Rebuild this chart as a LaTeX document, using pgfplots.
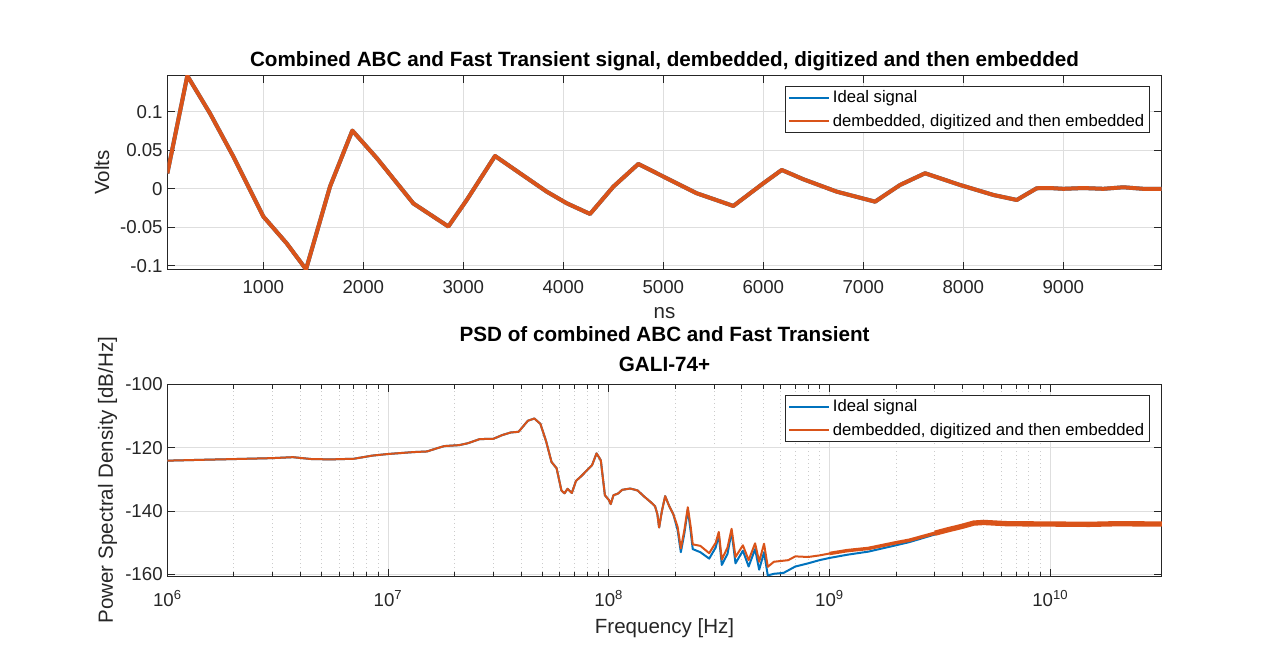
\documentclass[border=0pt]{standalone}
\usepackage{fontspec}
\setmainfont{Liberation Sans}
\usepackage{pgfplots}
\pgfplotsset{compat=1.18}

\definecolor{mblue}{rgb}{0,0.447,0.741}
\definecolor{morange}{rgb}{0.85,0.325,0.098}
\definecolor{maxis}{rgb}{0.15,0.15,0.15}
\definecolor{mgrid}{rgb}{0.87,0.87,0.87}

\pgfplotsset{
  matlab/.style={
    scale only axis,
    width=745.8pt,
    axis line style={maxis, line width=0.6pt},
    tick style={maxis, line width=0.6pt},
    major tick length=5.6pt,
    minor tick length=3.2pt,
    tick align=inside,
    major grid style={mgrid, line width=0.6pt},
    minor grid style={mgrid!80!gray, line width=0.6pt, dash pattern=on 0.9pt off 2.1pt},
    ticklabel style={font=\fontsize{14}{16}\selectfont, text=maxis},
    label style={font=\fontsize{15.4}{18}\selectfont, text=maxis},
    title style={font=\bfseries\fontsize{15.5}{22.5}\selectfont, align=center, yshift=-6pt},
    legend style={font=\fontsize{12.5}{14}\selectfont, draw=maxis, line width=0.6pt,
      inner xsep=2pt, inner ysep=1.2pt, row sep=3pt, anchor=north east},
    legend cell align=left,
    legend image code/.code={\draw[##1, line width=1.6pt] (0pt,0pt) -- (30pt,0pt);},
  }
}

\begin{document}
\begin{tikzpicture}
\path[use as bounding box] (0,0) rectangle (963pt,-488.25pt);

% time domain
\begin{axis}[matlab,
  at={(125.5pt,-56.8pt)}, anchor=north west,
  height=145.2pt,
  xmin=40, xmax=9984, ymin=-0.1047, ymax=0.147,
  xtick={1000,2000,3000,4000,5000,6000,7000,8000,9000},
  xticklabels={1000,2000,3000,4000,5000,6000,7000,8000,9000},
  xticklabel style={yshift=-4.5pt},
  ytick={-0.1,-0.05,0,0.05,0.1},
  yticklabels={-0.1,-0.05,0,0.05,0.1},
  grid=major,
  title={Combined ABC and Fast Transient signal, dembedded, digitized and then embedded},
  title style={at={(axis description cs:0.5,1.076)}, anchor=center},
  xlabel={ns}, xlabel style={at={(axis description cs:0.5,-0.228)}, anchor=center},
  ylabel={Volts}, ylabel style={at={(axis description cs:-0.066,0.5)}, anchor=center},
  legend style={at={(0.9882,0.947)}},
]
\addplot[mblue, line width=3pt, line join=round] coordinates {
  (40,0.020) (240,0.147) (467,0.098) (700,0.042) (1000,-0.036) (1234,-0.071)
  (1427,-0.1047) (1667,0.003) (1890,0.0757) (2134,0.040) (2500,-0.019)
  (2850,-0.049) (3034,-0.0145) (3317,0.0427) (3567,0.0202) (3834,-0.0037)
  (4034,-0.0188) (4267,-0.0327) (4500,0.0028) (4750,0.0323) (5034,0.0137)
  (5334,-0.0058) (5700,-0.0223) (6000,0.0072) (6184,0.0245) (6400,0.0124)
  (6734,-0.0037) (7117,-0.0167) (7367,0.005) (7617,0.0202) (7967,0.005)
  (8300,-0.008) (8534,-0.0145) (8734,0.0007) (8867,0.001) (9000,0.0) (9200,0.001)
  (9400,0.0) (9600,0.002) (9800,0.0) (9984,0.0)
};
\addlegendentry{Ideal signal}
\addplot[morange, line width=3pt, line join=round] coordinates {
  (40,0.020) (240,0.147) (467,0.098) (700,0.042) (1000,-0.036) (1234,-0.071)
  (1427,-0.1047) (1667,0.003) (1890,0.0757) (2134,0.040) (2500,-0.019)
  (2850,-0.049) (3034,-0.0145) (3317,0.0427) (3567,0.0202) (3834,-0.0037)
  (4034,-0.0188) (4267,-0.0327) (4500,0.0028) (4750,0.0323) (5034,0.0137)
  (5334,-0.0058) (5700,-0.0223) (6000,0.0072) (6184,0.0245) (6400,0.0124)
  (6734,-0.0037) (7117,-0.0167) (7367,0.005) (7617,0.0202) (7967,0.005)
  (8300,-0.008) (8534,-0.0145) (8734,0.0007) (8867,0.001) (9000,0.0) (9200,0.001)
  (9400,0.0) (9600,0.002) (9800,0.0) (9984,0.0)
};
\addlegendentry{dembedded, digitized and then embedded}
\end{axis}

% PSD
\begin{axis}[matlab,
  at={(125.5pt,-288.2pt)}, anchor=north west,
  height=143.8pt,
  xmode=log,
  xmin=1e6, xmax=3.2e10, ymin=-160.5, ymax=-100,
  xtick={1e6,1e7,1e8,1e9,1e10},
  xticklabels={10\textsuperscript{6},10\textsuperscript{7},10\textsuperscript{8},10\textsuperscript{9},10\textsuperscript{10}},
  xticklabel style={yshift=-7pt},
  ytick={-160,-140,-120,-100},
  yticklabels={-160,-140,-120,-100},
  grid=both,
  title={PSD of combined ABC and Fast Transient\\GALI-74+},
  title style={at={(axis description cs:0.5,1.185)}, anchor=center},
  xlabel={Frequency [Hz]}, xlabel style={at={(axis description cs:0.5,-0.271)}, anchor=center},
  ylabel={Power Spectral Density [dB/Hz]}, ylabel style={at={(axis description cs:-0.060,0.5)}, anchor=center},
  legend style={at={(0.9882,0.944)}},
]
\addplot[mblue, line width=1.5pt, line join=round] coordinates {
  (1e6,-124.1) (1.5e6,-123.8) (2e6,-123.6) (3e6,-123.3) (3.7e6,-123.0) (4.5e6,-123.6)
  (5.5e6,-123.7) (7e6,-123.5) (8.5e6,-122.5) (1e7,-122.0) (1.3e7,-121.4) (1.5e7,-121.2)
  (1.7e7,-120.0) (1.8e7,-119.5) (2.1e7,-119.2) (2.3e7,-118.6) (2.6e7,-117.3) (3e7,-117.2)
  (3.3e7,-116.0) (3.6e7,-115.2) (3.9e7,-115.0) (4.3e7,-111.5) (4.6e7,-110.8) (4.9e7,-112.5)
  (5.2e7,-118) (5.5e7,-124.5) (5.8e7,-126.5) (6.1e7,-133.5) (6.3e7,-134.4) (6.5e7,-133.0)
  (6.8e7,-134.3) (7.1e7,-130.5) (7.5e7,-129.0) (8e7,-127.0) (8.4e7,-125.5) (8.8e7,-121.8)
  (9.2e7,-124) (9.6e7,-135) (1e8,-136.5) (1.02e8,-137.8) (1.05e8,-135) (1.1e8,-134.5)
  (1.15e8,-133.3) (1.25e8,-132.9) (1.35e8,-133.5) (1.45e8,-135.5) (1.55e8,-137.2)
  (1.62e8,-138.5) (1.66e8,-141) (1.69e8,-145.2) (1.74e8,-140) (1.8e8,-135.3)
  (1.88e8,-138.5) (1.96e8,-141.0) (2.05e8,-146) (2.12e8,-153) (2.2e8,-147) (2.28e8,-139.5)
  (2.35e8,-146.5) (2.4e8,-152) (2.6e8,-153) (2.85e8,-155) (3.05e8,-151.5) (3.15e8,-147.5)
  (3.25e8,-157) (3.45e8,-153.5) (3.6e8,-146.5) (3.75e8,-156.5) (4.05e8,-152.5)
  (4.3e8,-157.5) (4.6e8,-152) (4.8e8,-158.5) (5.05e8,-153) (5.25e8,-160.3) (5.6e8,-159.8)
  (6.2e8,-159.5) (7e8,-157.5) (8e8,-156.5) (9e8,-155.5) (1e9,-154.8) (1.2e9,-153.8)
  (1.5e9,-152.8) (2e9,-150.8) (2.3e9,-149.8) (3e9,-147.4) (3.4e9,-146.0) (4e9,-144.8)
  (4.5e9,-143.8) (5e9,-143.6) (6.4e9,-144.0) (1e10,-144.1) (1.5e10,-144.2) (2e10,-144.0)
  (3.2e10,-144.1)
};
\addlegendentry{Ideal signal}
\addplot[morange, line width=1.5pt, line join=round] coordinates {
  (1e6,-124.1) (1.5e6,-123.8) (2e6,-123.6) (3e6,-123.3) (3.7e6,-123.0) (4.5e6,-123.6)
  (5.5e6,-123.7) (7e6,-123.5) (8.5e6,-122.5) (1e7,-122.0) (1.3e7,-121.4) (1.5e7,-121.2)
  (1.7e7,-120.0) (1.8e7,-119.5) (2.1e7,-119.2) (2.3e7,-118.6) (2.6e7,-117.3) (3e7,-117.2)
  (3.3e7,-116.0) (3.6e7,-115.2) (3.9e7,-115.0) (4.3e7,-111.5) (4.6e7,-110.8) (4.9e7,-112.5)
  (5.2e7,-118) (5.5e7,-124.5) (5.8e7,-126.5) (6.1e7,-133.5) (6.3e7,-134.4) (6.5e7,-133.0)
  (6.8e7,-134.3) (7.1e7,-130.5) (7.5e7,-129.0) (8e7,-127.0) (8.4e7,-125.5) (8.8e7,-121.8)
  (9.2e7,-124) (9.6e7,-135) (1e8,-136.5) (1.02e8,-137.8) (1.05e8,-135) (1.1e8,-134.5)
  (1.15e8,-133.3) (1.25e8,-132.9) (1.35e8,-133.5) (1.45e8,-135.5) (1.55e8,-137.2)
  (1.62e8,-138.5) (1.66e8,-141) (1.69e8,-145.2) (1.74e8,-140) (1.8e8,-135.3)
  (1.88e8,-138.5) (1.96e8,-141.0) (2.05e8,-145) (2.12e8,-151.8) (2.2e8,-146) (2.28e8,-138.8)
  (2.35e8,-145) (2.4e8,-150.5) (2.6e8,-151) (2.85e8,-153.3) (3.05e8,-150) (3.15e8,-146.6)
  (3.25e8,-155.3) (3.45e8,-151.5) (3.6e8,-145.6) (3.75e8,-154.5) (4.05e8,-150.8)
  (4.3e8,-155.5) (4.6e8,-150.2) (4.8e8,-156) (5.05e8,-150.3) (5.25e8,-157.6) (5.6e8,-156)
  (6.5e8,-155.5) (7e8,-154.3) (8e8,-154.5) (9e8,-154) (1e9,-153.4) (1.2e9,-152.5)
  (1.5e9,-151.8) (2e9,-150) (2.3e9,-149.2) (3e9,-147) (3.4e9,-146.0) (4e9,-144.8)
  (4.5e9,-143.8) (5e9,-143.6) (6.4e9,-144.0) (1e10,-144.1) (1.5e10,-144.2) (2e10,-144.0)
  (3.2e10,-144.1)
};
\addlegendentry{dembedded, digitized and then embedded}
% noisy band of the high-frequency part
\addplot[morange, line width=4pt, line join=round, forget plot] coordinates {
  (3e9,-147) (3.4e9,-146.0) (4e9,-144.8) (4.5e9,-143.8) (5e9,-143.6) (6.4e9,-144.0)
  (1e10,-144.1) (1.5e10,-144.2) (2e10,-144.0) (3.2e10,-144.1)
};
\addplot[morange, line width=2.6pt, line join=round, forget plot] coordinates {
  (1e9,-153.4) (1.2e9,-152.5) (1.5e9,-151.8) (2e9,-150) (2.3e9,-149.2) (3e9,-147)
};
\end{axis}
\end{tikzpicture}
\end{document}
